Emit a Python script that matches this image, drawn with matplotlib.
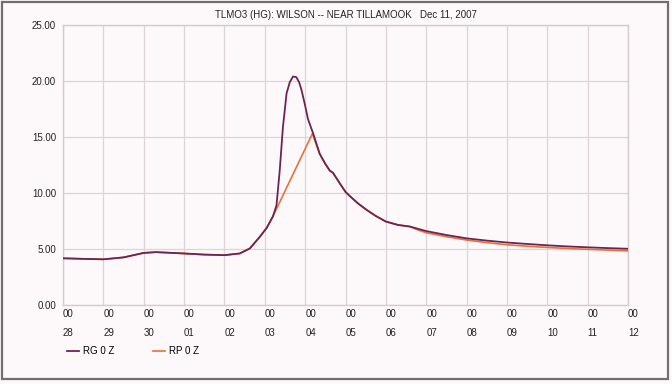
import matplotlib
matplotlib.use("Agg")
import matplotlib.pyplot as plt
from matplotlib.patches import Rectangle

# =========================
# DATA (days since Nov 28, 00Z)
# =========================
rg_days = [0.0, 0.5, 1.0, 1.5, 2.0, 2.3, 3.0, 3.5, 4.0, 4.38, 4.63, 4.88, 5.05, 5.2,
           5.29, 5.37, 5.45, 5.54, 5.62, 5.7, 5.78, 5.85, 5.91, 6.0, 6.07, 6.2, 6.36,
           6.5, 6.61, 6.69, 6.78, 6.86, 7.0, 7.1, 7.3, 7.52, 7.75, 8.0, 8.3, 8.6, 8.8,
           9.0, 9.5, 10.0, 10.5, 11.0, 11.5, 12.0, 12.5, 13.0, 13.5, 14.0]
rg_vals = [4.17, 4.12, 4.08, 4.25, 4.65, 4.72, 4.6, 4.5, 4.45, 4.6, 5.05, 6.1, 6.9, 7.9,
           8.9, 12.0, 15.9, 18.9, 19.9, 20.4, 20.35, 19.9, 19.2, 17.8, 16.6, 15.3, 13.5,
           12.6, 12.0, 11.8, 11.3, 10.85, 10.1, 9.75, 9.1, 8.5, 7.95, 7.45, 7.15, 7.0, 6.8,
           6.6, 6.25, 5.95, 5.75, 5.58, 5.45, 5.33, 5.23, 5.15, 5.08, 5.02]

rp_days = [0.0, 0.5, 1.0, 1.5, 2.0, 2.3, 3.0, 3.5, 4.0, 4.38, 4.63, 4.88, 5.05, 5.2,
           6.18, 6.36, 6.5, 6.61, 6.69, 6.78, 6.86, 7.0, 7.1, 7.3, 7.52, 7.75, 8.0, 8.3,
           8.6, 8.78, 9.0, 9.5, 10.0, 10.5, 11.0, 11.5, 12.0, 12.5, 13.0, 13.5, 14.0]
rp_vals = [4.17, 4.12, 4.08, 4.25, 4.65, 4.72, 4.6, 4.5, 4.45, 4.6, 5.05, 6.1, 6.9, 7.9,
           15.3, 13.5, 12.6, 12.0, 11.8, 11.3, 10.85, 10.1, 9.75, 9.1, 8.5, 7.95, 7.45, 7.15,
           7.0, 6.72, 6.45, 6.1, 5.8, 5.57, 5.38, 5.25, 5.14, 5.05, 4.97, 4.9, 4.83]

day_labels = ["28", "29", "30", "01", "02", "03", "04", "05", "06", "07", "08", "09",
              "10", "11", "12"]
y_ticks = [0, 5, 10, 15, 20, 25]
series_names = ["RG 0 Z", "RP 0 Z"]

title = "TLMO3 (HG): WILSON -- NEAR TILLAMOOK   Dec 11, 2007"

# =========================
# PLOT
# =========================
plt.rcParams["font.family"] = ["Liberation Sans", "DejaVu Sans"]
bg = "#fdf9fb"
grid_c = "#ddd3d8"

fig = plt.figure(figsize=(6.72, 3.84), dpi=100, facecolor=bg)
ax = fig.add_axes([63 / 672, 1 - 305 / 384, 565 / 672, 280 / 384], facecolor=bg)

rp_line, = ax.plot(rp_days, rp_vals, color="#e8703c", lw=1.2, zorder=3)
rg_line, = ax.plot(rg_days, rg_vals, color="#6e2350", lw=1.3, zorder=4)

ax.set_xlim(0, 14)
ax.set_ylim(0, 25)
ax.set_yticks(y_ticks)
ax.set_yticklabels([f"{v:.2f}" for v in y_ticks], fontsize=7, color="#222222")
ax.set_xticks(range(len(day_labels)))
ax.set_xticklabels([f"00\n{d}" for d in day_labels], fontsize=7, color="#222222",
                   ha="left", linespacing=2.1)
ax.tick_params(length=0, pad=5)
ax.tick_params(axis="x", pad=3)
ax.grid(True, color=grid_c, lw=0.9)
for s in ax.spines.values():
    s.set_color("#d8c8d0")
    s.set_linewidth(1.0)

ax.set_title(title, fontsize=7, pad=5, color="#222222")

# legend below the axis
fig.legend([rg_line, rp_line], series_names,
           loc="lower left", bbox_to_anchor=(58 / 672, 1 - 365 / 384), ncol=2,
           frameon=False, fontsize=7, handlelength=1.3, handletextpad=0.4,
           columnspacing=3.9)

# outer frame
fig.patches.append(Rectangle((2 / 672, 5 / 384), 666 / 672, 377 / 384,
                             transform=fig.transFigure, fill=False,
                             edgecolor="#6f6f6f", lw=1.6))

plt.savefig("out.png", dpi=100, facecolor=bg)
